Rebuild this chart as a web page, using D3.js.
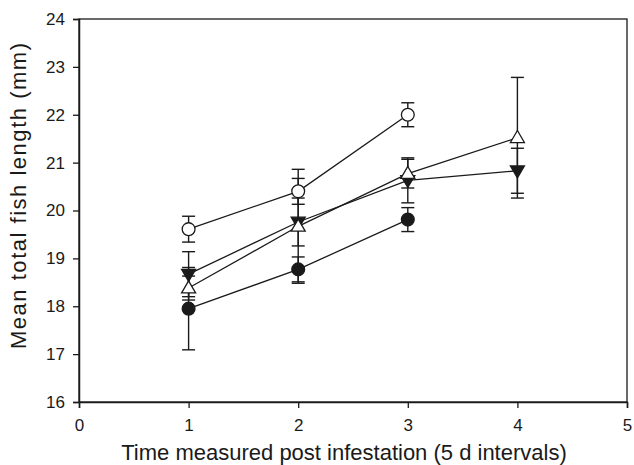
<!DOCTYPE html>
<html>
<head>
    <title>Fish length</title>
    <script src="https://d3js.org/d3.v7.min.js"></script>
    <style>
        body { margin: 0; background: #fff; }
        text { font-family: "Liberation Sans", Arial, sans-serif; fill: #1a1a1a; }
    </style>
</head>
<body>
<script>
    // time points (5 d intervals)
    const xTicks = [0, 1, 2, 3, 4, 5];
    const yTicks = [16, 17, 18, 19, 20, 21, 22, 23, 24];

    // series: means and error (+/-)
    const filledCircleX = [1, 2, 3];
    const filledCircleY = [17.95, 18.77, 19.81];
    const filledCircleErr = [0.86, 0.26, 0.25];

    const openCircleX = [1, 2, 3];
    const openCircleY = [19.61, 20.40, 22.00];
    const openCircleErr = [0.27, 0.27, 0.25];

    const downTriX = [1, 2, 3, 4];
    const downTriY = [18.67, 19.76, 20.63, 20.83];
    const downTriErr = [0.47, 0.5, 0.47, 0.47];

    const upTriX = [1, 2, 3, 4];
    const upTriY = [18.38, 19.67, 20.77, 21.52];
    const upTriErr = [0.25, 1.19, 0.3, 1.26];

    const width = 634, height = 465;
    const margin = {left: 79, right: 7, top: 19, bottom: 63};

    const svg = d3.select("body").append("svg")
        .attr("width", width)
        .attr("height", height);

    const xScale = d3.scaleLinear()
        .domain([0, 5])
        .range([margin.left, width - margin.right]);
    const yScale = d3.scaleLinear()
        .domain([16, 24])
        .range([height - margin.bottom, margin.top]);

    // box
    svg.append("rect")
        .attr("x", xScale(0))
        .attr("y", yScale(24))
        .attr("width", xScale(5) - xScale(0))
        .attr("height", yScale(16) - yScale(24))
        .attr("fill", "none")
        .attr("stroke", "#1a1a1a")
        .attr("stroke-width", 1.3);

    const xAxis = svg.append("g")
        .attr("transform", "translate(0," + yScale(16) + ")")
        .call(d3.axisBottom(xScale).tickValues(xTicks).tickSize(6).tickPadding(11).tickFormat(d3.format("d")));
    const yAxis = svg.append("g")
        .attr("transform", "translate(" + xScale(0) + ",0)")
        .call(d3.axisLeft(yScale).tickValues(yTicks).tickSize(6).tickPadding(8).tickFormat(d3.format("d")));

    [xAxis, yAxis].forEach(g => {
        g.select(".domain").attr("stroke", "#1a1a1a").attr("stroke-width", 1.5);
        g.selectAll(".tick line").attr("stroke", "#1a1a1a").attr("stroke-width", 1.3);
        g.selectAll(".tick text").style("font-size", "17px")
            .style("font-family", '"Liberation Sans", Arial, sans-serif').attr("fill", "#1a1a1a");
    });

    svg.append("text")
        .attr("x", (xScale(0) + xScale(5)) / 2 - 9)
        .attr("y", 460)
        .attr("text-anchor", "middle")
        .style("font-size", "22px")
        .text("Time measured post infestation (5 d intervals)");

    svg.append("text")
        .attr("transform", "translate(26,196) rotate(-90)")
        .attr("text-anchor", "middle")
        .attr("textLength", 306)
        .attr("lengthAdjust", "spacing")
        .style("font-size", "22px")
        .text("Mean total fish length (mm)");

    const series = [
        {x: filledCircleX, y: filledCircleY, e: filledCircleErr, shape: "circle", fill: true},
        {x: openCircleX, y: openCircleY, e: openCircleErr, shape: "circle", fill: false},
        {x: downTriX, y: downTriY, e: downTriErr, shape: "down", fill: true},
        {x: upTriX, y: upTriY, e: upTriErr, shape: "up", fill: false}
    ];

    const ink = "#1a1a1a";
    const line = d3.line().x(d => xScale(d.x)).y(d => yScale(d.y));

    // error bars first
    series.forEach(s => {
        const pts = s.x.map((xv, i) => ({x: xv, y: s.y[i], e: s.e[i]}));
        const g = svg.append("g");
        pts.forEach(p => {
            const cx = xScale(p.x);
            const top = yScale(p.y + p.e), bot = yScale(p.y - p.e);
            g.append("line").attr("x1", cx).attr("x2", cx).attr("y1", top).attr("y2", bot)
                .attr("stroke", ink).attr("stroke-width", 1.4);
            [top, bot].forEach(yy => {
                g.append("line").attr("x1", cx - 6.5).attr("x2", cx + 6.5).attr("y1", yy).attr("y2", yy)
                    .attr("stroke", ink).attr("stroke-width", 1.4);
            });
        });
    });

    // connecting lines
    series.forEach(s => {
        const pts = s.x.map((xv, i) => ({x: xv, y: s.y[i]}));
        svg.append("path").datum(pts)
            .attr("d", line)
            .attr("fill", "none")
            .attr("stroke", ink)
            .attr("stroke-width", 1.3);
    });

    // markers
    series.forEach(s => {
        const pts = s.x.map((xv, i) => ({x: xv, y: s.y[i]}));
        const g = svg.append("g");
        pts.forEach(p => {
            const cx = xScale(p.x), cy = yScale(p.y);
            let m;
            if (s.shape === "circle") {
                m = g.append("circle").attr("cx", cx).attr("cy", cy).attr("r", 6.4);
            } else {
                const h = 12, w = 14;
                const pointsStr = s.shape === "up"
                    ? [[cx, cy - h * 0.6], [cx - w / 2, cy + h * 0.4], [cx + w / 2, cy + h * 0.4]]
                    : [[cx, cy + h * 0.6], [cx - w / 2, cy - h * 0.4], [cx + w / 2, cy - h * 0.4]];
                m = g.append("polygon").attr("points", pointsStr.map(q => q.join(",")).join(" "));
            }
            m.attr("fill", s.fill ? ink : "#fff")
                .attr("stroke", ink)
                .attr("stroke-width", 1.3);
        });
    });
</script>
</body>
</html>
